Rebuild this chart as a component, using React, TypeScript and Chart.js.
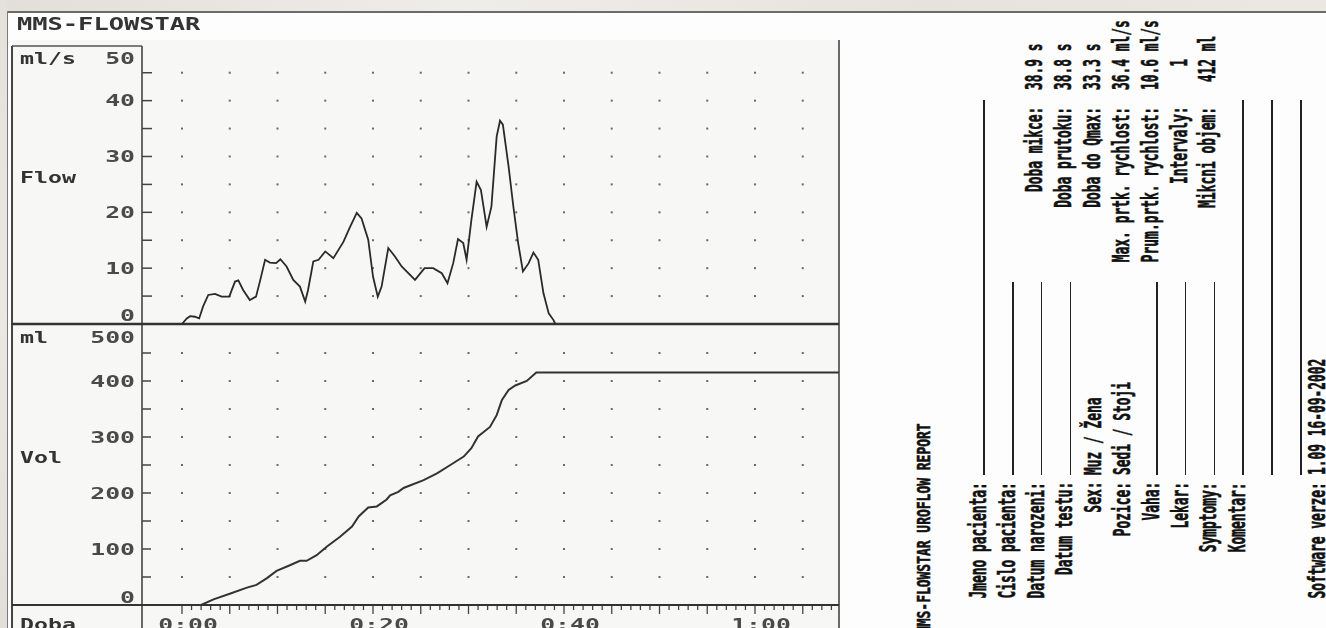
import React, { useEffect, useRef } from 'react';
import { Chart, registerables } from 'chart.js';

Chart.register(...registerables);

// ---------------- data ----------------
const flowTime = [0, 0.5, 0.85, 1.35, 1.8, 2.2, 2.75, 3.45, 4.15, 4.95, 5.55, 5.9, 6.4, 7.1, 7.75, 8.2, 8.7, 9.2, 9.85, 10.3, 10.95, 11.65, 12.35, 12.9, 13.2, 13.75, 14.3, 15.0, 15.85, 16.9, 17.6, 18.3, 18.8, 19.5, 20.0, 20.5, 20.9, 21.6, 22.3, 23.0, 24.4, 25.4, 26.3, 27.2, 27.8, 28.4, 28.9, 29.45, 29.8, 30.3, 30.85, 31.3, 31.9, 32.4, 32.95, 33.3, 33.6, 34.2, 34.7, 35.2, 35.7, 36.3, 36.8, 37.3, 37.85, 38.4, 38.9, 39.1];
const flowRate = [0, 1.0, 1.4, 1.3, 1.0, 3.1, 5.2, 5.4, 4.9, 4.9, 7.6, 7.8, 6.1, 4.3, 4.9, 7.9, 11.5, 11.0, 10.9, 11.6, 10.3, 7.9, 6.7, 4.0, 6.1, 11.2, 11.5, 13.0, 11.8, 14.7, 17.4, 19.9, 18.9, 15.1, 8.5, 4.9, 6.7, 13.6, 12.1, 10.3, 7.9, 10.0, 10.0, 9.1, 7.3, 10.9, 15.2, 14.5, 11.5, 18.6, 25.5, 24.0, 17.4, 21.0, 33.6, 36.4, 35.7, 28.2, 21.0, 14.5, 9.4, 10.9, 12.8, 11.5, 5.5, 1.9, 0.7, 0];

const volTime = [2.0, 3.3, 5.0, 6.8, 7.8, 8.9, 9.9, 11.3, 12.35, 13.05, 14.1, 15.15, 16.55, 17.8, 18.5, 19.5, 20.4, 21.4, 21.8, 22.65, 23.2, 25.3, 26.7, 28.1, 29.5, 30.3, 31.0, 32.25, 32.95, 33.5, 34.2, 34.9, 36.1, 37.1, 70];
const volValue = [0, 10, 20, 31, 36, 48, 61, 71, 79, 79, 89, 104, 122, 140, 158, 174, 176, 188, 196, 202, 209, 223, 235, 250, 265, 280, 301, 318, 339, 366, 384, 392, 400, 415, 415];

const timeLabelValues = [0, 20, 40, 60];
const timeLabels = ['0:00', '0:20', '0:40', '1:00'];
const flowLabelValues = [0, 10, 20, 30, 40, 50];
const volLabelValues = [0, 100, 200, 300, 400, 500];
const flowGridValues = [5, 10, 15, 20, 25, 30, 35, 40, 45];
const volGridValues = [50, 100, 150, 200, 250, 300, 350, 400, 450];
const timeGridValues = [0, 5, 10, 15, 20, 25, 30, 35, 40, 45, 50, 55, 60, 65];
const TIME_TICK_LAST = 68;

const headerText = 'MMS-FLOWSTAR';
const flowUnit = 'ml/s';
const flowName = 'Flow';
const volUnit = 'ml';
const volName = 'Vol';
const timeName = 'Doba';

const reportTitle = 'MMS-FLOWSTAR UROFLOW REPORT';
const statLabels = ['Doba mikce:', 'Doba prutoku:', 'Doba do Qmax:', 'Max. prtk. rychlost:', 'Prum.prtk. rychlost:', 'Intervaly:', 'Mikcni objem:'];
const statValues = ['38.9 s', '38.8 s', '33.3 s', '36.4 ml/s', '10.6 ml/s', '   1', ' 412 ml'];
const fieldLabels = ['Jmeno pacienta:', 'Cislo pacienta:', 'Datum narozeni:', 'Datum testu:', 'Sex:', 'Pozice:', 'Vaha:', 'Lekar:', 'Symptomy:', 'Komentar:'];
const fieldValues = ['', '', '', '', 'Muz / Žena', 'Sedi / Stoji', '', '', '', ''];
const softwareLabel = 'Software verze:';
const softwareValue = '1.09 16-09-2002';

// ---------------- layout ----------------
const CW = 860;
const CH = 660;
const PLOT = { left: 142, right: 839, top: 40, bottom: 605 };
const BOX_LEFT = 12;
const BOX_TOP = 46;
const TIME_ZERO_PX = 182;
const PX_PER_SEC = 9.55;
const FLOW_TOP_PX = 44.8;
const FLOW_ZERO_PX = 324;
const VOL_TOP_PX = 325;
const VOL_ZERO_PX = 605;
const FLOW_MAX = 50;
const VOL_MAX = 500;

const flowPPU = (FLOW_ZERO_PX - FLOW_TOP_PX) / FLOW_MAX;
const volPPU = (VOL_ZERO_PX - VOL_TOP_PX) / VOL_MAX;

const MONO = '"DejaVu Sans Mono", monospace';
const INK = '#333';

function wideText(ctx: CanvasRenderingContext2D, text: string, x: number, baseline: number, size: number, sx: number, align: CanvasTextAlign, color: string) {
  ctx.save();
  ctx.font = `bold ${size}px ${MONO}`;
  ctx.fillStyle = color;
  ctx.textAlign = align;
  ctx.textBaseline = 'alphabetic';
  ctx.translate(x, baseline);
  ctx.scale(sx, 1);
  ctx.fillText(text, 0, 0);
  ctx.restore();
}

function hLine(ctx: CanvasRenderingContext2D, x1: number, x2: number, y: number, w: number, c: string) {
  ctx.beginPath();
  ctx.strokeStyle = c;
  ctx.lineWidth = w;
  ctx.moveTo(x1, y);
  ctx.lineTo(x2, y);
  ctx.stroke();
}
function vLine(ctx: CanvasRenderingContext2D, x: number, y1: number, y2: number, w: number, c: string) {
  ctx.beginPath();
  ctx.strokeStyle = c;
  ctx.lineWidth = w;
  ctx.moveTo(x, y1);
  ctx.lineTo(x, y2);
  ctx.stroke();
}

const decorPlugin = {
  id: 'uroDecor',
  beforeDatasetsDraw(chart: any) {
    const ctx: CanvasRenderingContext2D = chart.ctx;
    const xs = chart.scales.x;
    const yf = chart.scales.yFlow;
    const yv = chart.scales.yVol;
    const left = chart.chartArea.left;
    const right = chart.chartArea.right;
    const top = chart.chartArea.top;
    const bottom = chart.chartArea.bottom;
    ctx.save();
    ctx.fillStyle = '#f7f7f6';
    ctx.fillRect(BOX_LEFT, top, right - BOX_LEFT, CH - top);

    ctx.fillStyle = '#6a6a6a';
    for (const t of timeGridValues) {
      const px = xs.getPixelForValue(t);
      for (const f of flowGridValues) {
        const py = yf.getPixelForValue(f);
        ctx.fillRect(px - 1, py - 1, 2, 2);
      }
      for (const v of volGridValues) {
        const py = yv.getPixelForValue(v);
        ctx.fillRect(px - 1, py - 1, 2, 2);
      }
    }

    for (const f of flowGridValues) hLine(ctx, left, left + 10, yf.getPixelForValue(f), 1.5, '#444');
    for (const v of volGridValues) hLine(ctx, left, left + 9, yv.getPixelForValue(v), 1.5, '#444');

    for (let t = 0; t <= TIME_TICK_LAST; t++) {
      const px = xs.getPixelForValue(t);
      vLine(ctx, px, bottom, bottom + (t % 5 === 0 ? 9 : 5), 1.3, '#444');
    }

    const flowZero = yf.getPixelForValue(0);
    const volZero = yv.getPixelForValue(0);
    hLine(ctx, BOX_LEFT, left, BOX_TOP, 1.5, '#555');
    vLine(ctx, BOX_LEFT, BOX_TOP, CH, 2, '#444');
    vLine(ctx, left, BOX_TOP, CH, 1.6, '#444');
    vLine(ctx, right, top, CH, 1.6, '#444');
    hLine(ctx, BOX_LEFT, right, flowZero, 2.4, '#333');
    hLine(ctx, BOX_LEFT, right, volZero, 2, '#333');
    ctx.restore();
  },
  afterDatasetsDraw(chart: any) {
    const ctx: CanvasRenderingContext2D = chart.ctx;
    const xs = chart.scales.x;
    const yf = chart.scales.yFlow;
    const yv = chart.scales.yVol;
    const labelRight = chart.chartArea.left - 7;
    const fTop = yf.getPixelForValue(FLOW_MAX);
    const fBot = yf.getPixelForValue(0);
    const vTop = yv.getPixelForValue(VOL_MAX);
    const vBot = yv.getPixelForValue(0);
    const clamp = (p: number, a: number, b: number) => Math.max(a, Math.min(b, p));
    const cap = 5.8;
    const digit = '#4a4a4a';

    wideText(ctx, headerText, 17, 30, 17.5, 1.45, 'left', INK);

    for (const f of flowLabelValues) {
      const c = clamp(yf.getPixelForValue(f), fTop + 13, fBot - 9);
      wideText(ctx, String(f), labelRight, c + cap, 16, 1.55, 'right', digit);
    }
    for (const v of volLabelValues) {
      const c = clamp(yv.getPixelForValue(v), vTop + 12, vBot - 8);
      wideText(ctx, String(v), labelRight, c + cap, 16, 1.55, 'right', digit);
    }
    wideText(ctx, flowUnit, 20, 58 + cap, 16, 1.45, 'left', INK);
    wideText(ctx, flowName, 20, 177 + cap, 16, 1.45, 'left', INK);
    wideText(ctx, volUnit, 20, 337 + cap, 16, 1.45, 'left', INK);
    wideText(ctx, volName, 20, 457 + cap, 16, 1.45, 'left', INK);
    wideText(ctx, timeName, 20, 630, 16, 1.45, 'left', INK);
    timeLabelValues.forEach((t, i) => {
      wideText(ctx, timeLabels[i], xs.getPixelForValue(t) + 6, 630, 16, 1.55, 'center', digit);
    });
  },
};

function UroChart() {
  const ref = useRef<HTMLCanvasElement | null>(null);
  useEffect(() => {
    if (!ref.current) return;
    const xMin = (PLOT.left - TIME_ZERO_PX) / PX_PER_SEC;
    const xMax = (PLOT.right - TIME_ZERO_PX) / PX_PER_SEC;
    const fMax = FLOW_MAX + (FLOW_TOP_PX - PLOT.top) / flowPPU;
    const fMin = -(PLOT.bottom - FLOW_ZERO_PX) / flowPPU;
    const vMin = -(PLOT.bottom - VOL_ZERO_PX) / volPPU;
    const vMax = (VOL_ZERO_PX - PLOT.top) / volPPU;
    const chart = new Chart(ref.current, {
      type: 'line',
      data: {
        datasets: [
          {
            label: 'Flow',
            data: flowTime.map((t, i) => ({ x: t, y: flowRate[i] })),
            yAxisID: 'yFlow',
            borderColor: '#2a2a2a',
            borderWidth: 1.8,
            pointRadius: 0,
            tension: 0,
            fill: false,
          },
          {
            label: 'Vol',
            data: volTime.map((t, i) => ({ x: t, y: volValue[i] })),
            yAxisID: 'yVol',
            borderColor: '#333',
            borderWidth: 2,
            pointRadius: 0,
            tension: 0,
            fill: false,
          },
        ],
      },
      options: {
        animation: false,
        responsive: false,
        maintainAspectRatio: false,
        devicePixelRatio: 1,
        layout: { padding: { left: PLOT.left, right: CW - PLOT.right, top: PLOT.top, bottom: CH - PLOT.bottom } },
        plugins: { legend: { display: false }, tooltip: { enabled: false } },
        scales: {
          x: { type: 'linear', display: false, min: xMin, max: xMax },
          yFlow: { type: 'linear', display: false, min: fMin, max: fMax },
          yVol: { type: 'linear', display: false, min: vMin, max: vMax },
        },
      },
      plugins: [decorPlugin],
    } as any);
    return () => chart.destroy();
  }, []);
  return <canvas ref={ref} width={CW} height={CH} style={{ position: 'absolute', left: 0, top: 0, width: CW, height: CH }} />;
}

// ---------------- rotated report panel ----------------
const PAGE_H = 628;
const PANEL_LEFT = 880;
const PANEL_W = 446;
const TXT_SX = 0.56;

function RotText({ u, x, text, align, size, sx }: { u: number; x: number; text: string; align: 'left' | 'right'; size: number; sx: number }) {
  const lh = 30;
  const v = x - PANEL_LEFT;
  const style: React.CSSProperties = {
    position: 'absolute',
    top: v - lh / 2,
    height: lh,
    lineHeight: lh + 'px',
    fontFamily: MONO,
    fontWeight: 'bold',
    fontSize: size,
    whiteSpace: 'pre',
    color: '#111',
    WebkitTextStroke: '0.6px #111',
    transform: `scaleX(${sx})`,
    transformOrigin: align === 'right' ? 'right center' : 'left center',
  } as React.CSSProperties;
  if (align === 'right') style.right = PAGE_H - u;
  else style.left = u;
  return <div style={style}>{text}</div>;
}

function FieldLine({ x, u1, u2 }: { x: number; u1: number; u2: number }) {
  return <div style={{ position: 'absolute', left: u1, top: x - PANEL_LEFT - 0.75, width: u2 - u1, height: 1.5, background: '#222' }} />;
}

function ReportPanel() {
  const statX = (k: number) => 1034 + 28.9 * k;
  const fieldX = (k: number) => 978 + 28.8 * k;
  const labelEnd = PAGE_H - 482;
  const valueStart = PAGE_H - 475;
  const statLabelEnd = PAGE_H - 107;
  const statValueStart = PAGE_H - 90;
  const shortLineEnd = PAGE_H - 282;
  const longLineEnd = PAGE_H - 100;
  const lineRows = [0, 1, 2, 3, 6, 7, 8, 9, 10, 11];
  const longRows = [0, 9, 10, 11];
  return (
    <div
      style={{
        position: 'absolute',
        left: PANEL_LEFT,
        top: PAGE_H,
        width: PAGE_H,
        height: PANEL_W,
        transform: 'rotate(-90deg)',
        transformOrigin: '0 0',
        overflow: 'hidden',
      }}
    >
      <RotText u={PAGE_H - 423} x={923.5} text={reportTitle} align="right" size={18} sx={0.72} />
      {fieldLabels.map((l, k) => (
        <RotText key={'fl' + k} u={labelEnd} x={fieldX(k)} text={l} align="right" size={23} sx={TXT_SX} />
      ))}
      {fieldValues.map((v, k) =>
        v ? <RotText key={'fv' + k} u={valueStart} x={fieldX(k)} text={v} align="left" size={23} sx={TXT_SX} /> : null
      )}
      {lineRows.map((k) => (
        <FieldLine key={'ln' + k} x={fieldX(k) + 6} u1={valueStart} u2={longRows.includes(k) ? longLineEnd : shortLineEnd} />
      ))}
      {statLabels.map((l, k) => (
        <RotText key={'sl' + k} u={statLabelEnd} x={statX(k)} text={l} align="right" size={23} sx={TXT_SX} />
      ))}
      {statValues.map((v, k) => (
        <RotText key={'sv' + k} u={statValueStart} x={statX(k)} text={v} align="left" size={23} sx={TXT_SX} />
      ))}
      <RotText u={labelEnd} x={1317} text={softwareLabel} align="right" size={23} sx={TXT_SX} />
      <RotText u={valueStart} x={1317} text={softwareValue} align="left" size={23} sx={TXT_SX} />
    </div>
  );
}

export default function App() {
  useEffect(() => {
    document.body.style.margin = '0';
  }, []);
  return (
    <div style={{ position: 'fixed', left: 0, top: 0, width: 1326, height: 628, overflow: 'hidden', background: '#fdfdfd' }}>
      <div style={{ position: 'absolute', left: 0, top: 0, width: 1326, height: 11, background: 'linear-gradient(90deg, #e2dfda, #efede9 35%, #e6e3de 70%, #ebe8e3)' }} />
      <div style={{ position: 'absolute', left: 0, top: 0, width: 7, height: 628, background: 'linear-gradient(180deg, #e4e1dc, #ebe8e3 50%, #e2dfda)' }} />
      <div style={{ position: 'absolute', left: 7, top: 11, width: 1319, height: 1.5, background: '#6b6b6b' }} />
      <div style={{ position: 'absolute', left: 7, top: 11, width: 1.2, height: 617, background: '#7a7a7a' }} />
      <UroChart />
      <ReportPanel />
    </div>
  );
}
